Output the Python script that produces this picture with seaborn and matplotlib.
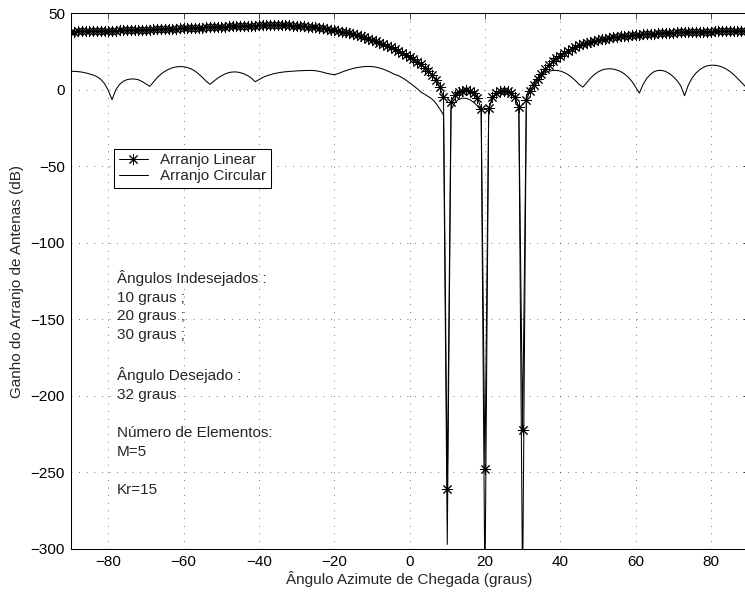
import numpy as np
import matplotlib
matplotlib.use("Agg")
import matplotlib.pyplot as plt
import seaborn as sns

# angle grid (degrees), one sample per degree
angles = list(range(-90, 91))

# gain of the linear array (dB)
linear_gain = [
    38.0, 38.0, 38.1, 38.1, 38.2, 38.2, 38.3, 38.3, 38.4, 38.4,
    38.5, 38.6, 38.6, 38.7, 38.8, 38.8, 38.9, 39.0, 39.1, 39.1,
    39.2, 39.3, 39.4, 39.5, 39.5, 39.6, 39.7, 39.8, 39.9, 40.0,
    40.1, 40.2, 40.3, 40.4, 40.5, 40.6, 40.7, 40.8, 40.9, 41.0,
    41.1, 41.2, 41.3, 41.4, 41.5, 41.6, 41.7, 41.8, 41.8, 41.9,
    42.0, 42.0, 42.1, 42.1, 42.1, 42.1, 42.1, 42.0, 42.0, 41.9,
    41.8, 41.6, 41.4, 41.2, 41.0, 40.7, 40.4, 40.1, 39.7, 39.3,
    38.9, 38.4, 37.9, 37.4, 36.8, 36.2, 35.6, 34.9, 34.2, 33.4,
    32.6, 31.7, 30.8, 29.8, 28.8, 27.7, 26.6, 25.4, 24.1, 22.8,
    21.4, 19.9, 18.3, 16.5, 14.5, 12.2, 9.5, 6.2, 1.8, -5.0,
    -261, -8.0, -3.5, -1.5, -0.6, -0.4, -0.9, -2.3, -5.2, -12.5,
    -248, -12.0, -5.0, -2.2, -0.9, -0.6, -0.9, -2.2, -5.0, -11.5,
    -222, -6.5, -1.0, 3.0, 7.0, 10.5, 13.5, 16.0, 18.5, 20.5,
    22.3, 24.0, 25.5, 26.8, 28.0, 29.0, 29.9, 30.7, 31.4, 32.0,
    32.5, 33.0, 33.4, 33.8, 34.2, 34.5, 34.8, 35.1, 35.4, 35.6,
    35.8, 36.0, 36.2, 36.4, 36.5, 36.7, 36.8, 37.0, 37.1, 37.2,
    37.3, 37.4, 37.5, 37.6, 37.7, 37.7, 37.8, 37.9, 37.9, 38.0,
    38.0, 38.1, 38.1, 38.2, 38.2, 38.2, 38.3, 38.3, 38.3, 38.4, 38.4,
]

# gain of the circular array (dB)
circular_gain = [
    12.0, 12.0, 11.8, 11.5, 11.0, 10.3, 9.6, 8.5, 6.8, 4.0,
    -0.5, -6.5, 0.0, 3.5, 5.5, 6.6, 7.0, 7.0, 6.5, 5.3,
    3.8, 2.2, 5.0, 8.0, 10.2, 12.0, 13.3, 14.3, 14.9, 15.1,
    15.0, 14.5, 13.6, 12.2, 10.3, 8.0, 5.5, 3.5, 5.5, 7.5,
    9.0, 10.3, 11.2, 11.6, 11.6, 11.2, 10.4, 9.2, 7.6, 5.2,
    6.6, 8.0, 9.0, 9.8, 10.5, 11.0, 11.4, 11.7, 11.9, 12.1,
    12.3, 12.4, 12.5, 12.6, 12.6, 12.4, 12.0, 11.4, 10.7, 10.2,
    9.8, 10.5, 11.5, 12.4, 13.2, 13.9, 14.4, 14.8, 15.1, 15.2,
    15.1, 14.8, 14.2, 13.4, 12.4, 11.3, 10.0, 9.2, 7.9, 6.3,
    4.5, 2.7, 0.7, -1.5, -3.0, -4.5, -6.2, -8.8, -12.5, -16.5,
    -297, -13.0, -8.5, -6.3, -5.5, -5.6, -6.5, -8.2, -10.5, -14.0,
    -330, -12.5, -5.8, -3.0, -1.8, -1.2, -1.5, -2.8, -5.8, -11.0,
    -330, -4.0, 1.5, 5.0, 7.8, 9.8, 11.2, 12.1, 12.6, 12.6,
    12.2, 11.3, 10.0, 8.2, 6.0, 3.5, 1.7, 4.5, 7.5, 9.8,
    11.6, 12.8, 13.5, 13.7, 13.5, 12.9, 11.9, 10.4, 8.3, 5.5,
    1.8, -2.2, 3.5, 7.5, 10.2, 11.9, 12.6, 12.6, 11.9, 10.5,
    8.6, 6.0, 2.5, -3.9, 3.0, 7.6, 10.8, 13.0, 14.6, 15.6,
    16.0, 16.0, 15.6, 14.8, 13.6, 12.0, 10.0, 7.6, 5.0, 2.5, 0.0,
]

x_ticks = [-80, -60, -40, -20, 0, 20, 40, 60, 80]
y_ticks = [-300, -250, -200, -150, -100, -50, 0, 50]

info_text = ("\u00c2ngulos Indesejados :\n10 graus ;\n20 graus ;\n30 graus ;\n\n"
             "\u00c2ngulo Desejado :\n32 graus\n\n"
             "N\u00famero de Elementos:\nM=5\n\nKr=15")

sns.set_style("white")
plt.rcParams["font.family"] = ["Liberation Sans", "DejaVu Sans"]
plt.rcParams["font.size"] = 11

fig = plt.figure(figsize=(7.45, 5.96), dpi=100)
ax = fig.add_axes([0.0948, 0.0789, 0.910, 0.899])

sns.lineplot(x=angles, y=linear_gain, ax=ax, color="black", linewidth=0.75,
             marker=(8, 2, 0), markersize=8, markeredgecolor="black",
             markeredgewidth=0.7, label="Arranjo Linear", sort=False)
sns.lineplot(x=angles, y=circular_gain, ax=ax, color="black", linewidth=0.75,
             label="Arranjo Circular", sort=False)

ax.set_xlim(-90, 90)
ax.set_ylim(-300, 50)
ax.set_xticks(x_ticks)
ax.set_yticks(y_ticks)
ax.grid(True, color="black", linewidth=0.5, linestyle=(0, (1, 10)))
ax.tick_params(direction="in", length=4.5, width=0.5, top=True, right=True,
               labelsize=11, colors="black", pad=4)
for s in ax.spines.values():
    s.set_color("black")
    s.set_linewidth(0.75)

ax.set_xlabel("\u00c2ngulo Azimute de Chegada (graus)", fontsize=11, labelpad=2)
ax.set_ylabel("Ganho do Arranjo de Antenas (dB)", fontsize=11, labelpad=5)

leg = ax.legend(loc="upper left", bbox_to_anchor=(-78.4, -38.5),
                bbox_transform=ax.transData, fancybox=False, framealpha=1,
                edgecolor="black", fontsize=11, handlelength=1.9,
                handletextpad=0.8, borderpad=0.3, labelspacing=0.12,
                borderaxespad=0)
leg.get_frame().set_linewidth(0.75)

ax.text(-77.7, -117.5, info_text, ha="left", va="top", fontsize=11,
        linespacing=1.45)

fig.savefig("out.png", dpi=100)
